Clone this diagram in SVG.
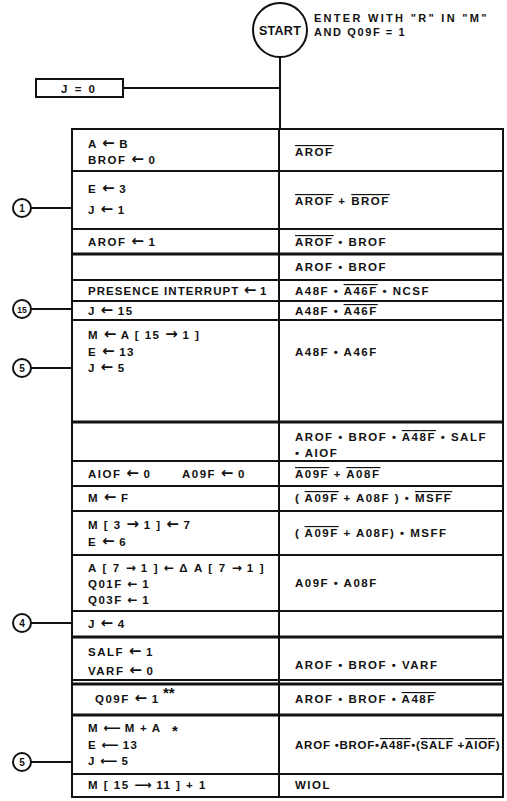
<svg xmlns="http://www.w3.org/2000/svg" width="507" height="801" viewBox="0 0 507 801">
<style>
  text { font-family: "Liberation Sans", "DejaVu Sans", Arial, sans-serif; font-weight: bold; font-size: 11.5px; fill: #111; letter-spacing: 1.5px; }
  .ar { font-family: "DejaVu Sans", sans-serif; font-size: 15px; letter-spacing: 0; }
  .la { font-family: "DejaVu Sans", sans-serif; font-size: 12px; letter-spacing: 0; }
  .ln { stroke: #111; stroke-width: 2; fill: none; }
  .thk { stroke: #111; stroke-width: 3.2; fill: none; }
  .ov { text-decoration: overline; }
  .st { font-size: 12.5px; letter-spacing: 0.3px; }
  .nt { font-size: 11px; letter-spacing: 1.6px; }
  .cl { font-size: 10px; letter-spacing: 0; }
  .star { font-size: 15px; letter-spacing: 0; }
</style>

<g id="connectors">
  <line class="ln" x1="280" y1="57" x2="280" y2="129"/>
  <line class="ln" x1="123" y1="88" x2="280" y2="88"/>
  <line class="ln" x1="31" y1="208" x2="72" y2="208"/>
  <line class="ln" x1="31" y1="309" x2="72" y2="309"/>
  <line class="ln" x1="31" y1="368" x2="72" y2="368"/>
  <line class="ln" x1="31" y1="623" x2="72" y2="623"/>
  <line class="ln" x1="31" y1="762" x2="72" y2="762"/>
</g>

<g id="start">
  <circle class="ln" cx="280" cy="30" r="27" fill="#fff"/>
  <text class="st" x="280" y="35" text-anchor="middle">START</text>
</g>
<g id="entry-note">
  <text class="nt" x="314" y="22" textLength="174">ENTER  WITH "R" IN "M"</text>
  <text class="nt" x="314" y="36">AND  Q09F = 1</text>
</g>
<g id="j0">
  <rect class="ln" x="36" y="79" width="87" height="18"/>
  <text x="79" y="92.5" text-anchor="middle" style="letter-spacing:2px">J = 0</text>
</g>

<g id="c1"><circle class="ln" cx="22" cy="208" r="9"/><text class="cl" x="22" y="211.5" text-anchor="middle">1</text></g>
<g id="c15"><circle class="ln" cx="22" cy="309" r="9"/><text class="cl" x="22" y="312.5" text-anchor="middle" style="font-size:8.5px">15</text></g>
<g id="c5a"><circle class="ln" cx="22" cy="368" r="9"/><text class="cl" x="22" y="371.5" text-anchor="middle">5</text></g>
<g id="c4"><circle class="ln" cx="22" cy="623" r="9"/><text class="cl" x="22" y="626.5" text-anchor="middle">4</text></g>
<g id="c5b"><circle class="ln" cx="22" cy="762" r="9"/><text class="cl" x="22" y="765.5" text-anchor="middle">5</text></g>

<g id="table-grid">
  <rect class="ln" x="72" y="129" width="431" height="668"/>
  <line class="ln" x1="279" y1="129" x2="279" y2="797"/>
  <line class="ln" x1="72" y1="171" x2="503" y2="171"/>
  <line class="ln" x1="72" y1="229" x2="503" y2="229"/>
  <line class="thk" x1="72" y1="254" x2="503" y2="254"/>
  <line class="ln" x1="72" y1="280" x2="503" y2="280"/>
  <line class="ln" x1="72" y1="301" x2="503" y2="301"/>
  <line class="ln" x1="72" y1="320" x2="503" y2="320"/>
  <line class="thk" x1="72" y1="422" x2="503" y2="422"/>
  <line class="ln" x1="72" y1="461" x2="503" y2="461"/>
  <line class="ln" x1="72" y1="486" x2="503" y2="486"/>
  <line class="ln" x1="72" y1="511" x2="503" y2="511"/>
  <line class="ln" x1="72" y1="555" x2="503" y2="555"/>
  <line class="ln" x1="72" y1="611" x2="503" y2="611"/>
  <line class="thk" x1="72" y1="637" x2="503" y2="637"/>
  <line class="ln" x1="72" y1="680" x2="503" y2="680"/>
  <line class="thk" x1="72" y1="684" x2="503" y2="684"/>
  <line class="thk" x1="72" y1="715" x2="503" y2="715"/>
  <line class="ln" x1="72" y1="774" x2="503" y2="774"/>
</g>

<g id="row1">
  <text x="88" y="148">A <tspan class="ar">←</tspan> B</text>
  <text x="88" y="164">BROF <tspan class="ar">←</tspan> 0</text>
  <text x="295" y="156"><tspan class="ov">AROF</tspan></text>
</g>
<g id="row2">
  <text x="88" y="193">E <tspan class="ar">←</tspan> 3</text>
  <text x="88" y="214">J <tspan class="ar">←</tspan> 1</text>
  <text x="295" y="205"><tspan class="ov">AROF</tspan> + <tspan class="ov">BROF</tspan></text>
</g>
<g id="row3">
  <text x="88" y="246">AROF <tspan class="ar">←</tspan> 1</text>
  <text x="295" y="246"><tspan class="ov">AROF</tspan> • BROF</text>
</g>
<g id="row4">
  <text x="295" y="271">AROF • BROF</text>
</g>
<g id="row5">
  <text x="88" y="295" textLength="180">PRESENCE  INTERRUPT <tspan class="ar">←</tspan> 1</text>
  <text x="295" y="295">A48F • <tspan class="ov">A46F</tspan> • NCSF</text>
</g>
<g id="row6">
  <text x="88" y="315">J <tspan class="ar">←</tspan> 15</text>
  <text x="295" y="315">A48F • <tspan class="ov">A46F</tspan></text>
</g>
<g id="row7">
  <text x="88" y="339">M <tspan class="ar">←</tspan> A [ 15 <tspan class="ar">→</tspan> 1 ]</text>
  <text x="88" y="356">E <tspan class="ar">←</tspan> 13</text>
  <text x="88" y="372">J <tspan class="ar">←</tspan> 5</text>
  <text x="295" y="356">A48F • A46F</text>
</g>
<g id="row8">
  <text x="295" y="441" textLength="192">AROF • BROF • <tspan class="ov">A48F</tspan> • SALF</text>
  <text x="295" y="457">• AIOF</text>
</g>
<g id="row9">
  <text x="88" y="478">AIOF <tspan class="ar">←</tspan> 0</text>
  <text x="182" y="478">A09F <tspan class="ar">←</tspan> 0</text>
  <text x="295" y="478"><tspan class="ov">A09F</tspan> + <tspan class="ov">A08F</tspan></text>
</g>
<g id="row10">
  <text x="88" y="502">M <tspan class="ar">←</tspan> F</text>
  <text x="295" y="502">( <tspan class="ov">A09F</tspan> + A08F ) • <tspan class="ov">MSFF</tspan></text>
</g>
<g id="row11">
  <text x="88" y="529">M [ 3 <tspan class="ar">→</tspan> 1 ]  <tspan class="ar">←</tspan> 7</text>
  <text x="88" y="546">E <tspan class="ar">←</tspan> 6</text>
  <text x="295" y="537">( <tspan class="ov">A09F</tspan> + A08F) • MSFF</text>
</g>
<g id="row12">
  <text x="88" y="572" textLength="177">A [ 7 <tspan class="la">→</tspan> 1 ]  <tspan class="la">←</tspan> Δ A [ 7 <tspan class="la">→</tspan> 1 ]</text>
  <text x="88" y="588">Q01F <tspan class="la">←</tspan> 1</text>
  <text x="88" y="604">Q03F <tspan class="la">←</tspan> 1</text>
  <text x="295" y="587">A09F • A08F</text>
</g>
<g id="row13">
  <text x="88" y="628">J <tspan class="ar">←</tspan> 4</text>
</g>
<g id="row14">
  <text x="88" y="656">SALF <tspan class="ar">←</tspan> 1</text>
  <text x="88" y="675">VARF <tspan class="ar">←</tspan> 0</text>
  <text x="295" y="669">AROF • BROF • VARF</text>
</g>
<g id="row15">
  <text x="95" y="703">Q09F <tspan class="ar">←</tspan> 1</text>
  <text class="star" x="163" y="698">**</text>
  <text x="295" y="703">AROF • BROF • <tspan class="ov">A48F</tspan></text>
</g>
<g id="row16">
  <text x="88" y="732" style="letter-spacing:1.2px">M <tspan class="la">⟵</tspan> M + A</text>
  <text class="star" x="172" y="736">*</text>
  <text x="88" y="749" style="letter-spacing:1.2px">E <tspan class="la">⟵</tspan> 13</text>
  <text x="88" y="765" style="letter-spacing:1.2px">J <tspan class="la">⟵</tspan> 5</text>
  <text x="295" y="749" textLength="205" style="letter-spacing:0.5px">AROF •BROF•<tspan class="ov">A48F</tspan>•(<tspan class="ov">SALF</tspan> +<tspan class="ov">AIOF</tspan>)</text>
</g>
<g id="row17">
  <text x="88" y="789">M [ 15 <tspan class="la">⟶</tspan> 11 ] + 1</text>
  <text x="295" y="789">WIOL</text>
</g>
</svg>
